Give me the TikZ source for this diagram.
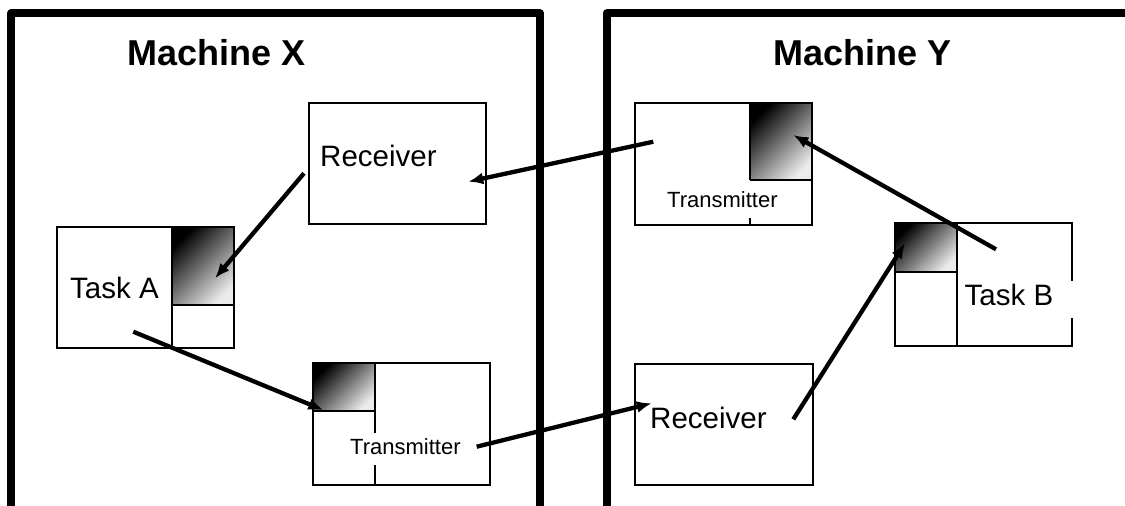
\documentclass[tikz,border=0pt]{standalone}
\usepackage{fontspec}
\setmainfont{Liberation Sans}
\usetikzlibrary{arrows.meta}
\tikzset{
  machine/.style={draw=black, line width=8pt, line join=round},
  box/.style={draw=black, line width=2pt},
  part/.style={draw=black, line width=2pt},
  buffer/.style={shading=axis, top color=black, bottom color=black!8, shading angle=45},
  msg/.style={draw=black, line width=4.3pt, -{Latex[length=15pt,width=12pt]}},
  title/.style={inner sep=0pt, anchor=base west, font=\fontsize{36}{40}\selectfont\bfseries},
  label/.style={inner sep=0pt, anchor=base west, font=\fontsize{29.5}{34}\selectfont},
  smalllabel/.style={inner sep=0pt, anchor=base west, font=\fontsize{22}{26}\selectfont}
}
\begin{document}
\begin{tikzpicture}[x=1pt, y=-1pt]
\useasboundingbox (0,0) rectangle (1125,506);
\fill[white] (0,0) rectangle (1125,506);
\clip (0,0) rectangle (1125,506);

% machines
\draw[machine] (11.2,540) -- (11.2,13.3) -- (540,13.3) -- (540,540);
\draw[machine] (606.7,540) -- (606.7,13.3) -- (1160,13.3);
\node[title] (mx) at (127,65) {Machine X};
\node[title] (my) at (773,65) {Machine Y};

% Machine X: receiver
\node[box, minimum width=176.7pt, minimum height=121.6pt, inner sep=0pt] (recvX) at (397.65,163.5) {};
\node[label] (recvXt) at (320,166.7) {Receiver};

% Machine X: task A
\shade[buffer] (172.3,226.7) rectangle (234.3,305);
\draw[box] (57.3,226.7) rectangle (234.3,347.7);
\draw[part] (172.3,226.7) -- (172.3,347.7);
\draw[part] (172.3,305) -- (234.3,305);
\node[box, draw=none, minimum width=177pt, minimum height=121pt, inner sep=0pt] (taskA) at (145.8,287.2) {};
\node[label] (taskAt) at (70,298) {Task A};

% Machine X: transmitter
\shade[buffer] (313.3,363.3) rectangle (375,411);
\draw[box] (313.3,363.3) rectangle (490,485);
\draw[part] (313.3,411) -- (375,411);
\draw[part] (375,363.3) -- (375,433);
\draw[part] (375,465) -- (375,485);
\node[box, draw=none, minimum width=176.7pt, minimum height=121.7pt, inner sep=0pt] (transX) at (401.65,424.15) {};
\node[smalllabel] (transXt) at (350,454) {Transmitter};

% Machine Y: transmitter
\shade[buffer] (750,103.3) rectangle (811.7,180);
\draw[box] (635,103.3) rectangle (811.7,225);
\draw[part] (750,103.3) -- (750,180);
\draw[part] (750,180) -- (811.7,180);
\draw[part] (750,218) -- (750,225);
\node[box, draw=none, minimum width=176.7pt, minimum height=121.7pt, inner sep=0pt] (transY) at (723.35,164.15) {};
\node[smalllabel] (transYt) at (667,207) {Transmitter};

% Machine Y: task B (right side left open in the middle)
\shade[buffer] (895,223.3) rectangle (956.7,271.7);
\draw[box] (1071.7,280.7) -- (1071.7,223.3) -- (895,223.3) -- (895,346) -- (1071.7,346) -- (1071.7,318.3);
\draw[part] (956.7,223.3) -- (956.7,346);
\draw[part] (895,271.7) -- (956.7,271.7);
\node[box, draw=none, minimum width=176.7pt, minimum height=122.7pt, inner sep=0pt] (taskB) at (983.35,284.65) {};
\node[label] (taskBt) at (964.5,305) {Task B};

% Machine Y: receiver
\node[box, minimum width=177.7pt, minimum height=121pt, inner sep=0pt] (recvY) at (723.85,424.5) {};
\node[label] (recvYt) at (650,428.3) {Receiver};

% message path end points
\coordinate (tyOut) at (653.3,141.7);
\coordinate (rxIn)  at (468.3,181.7);
\coordinate (rxOut) at (304,173.3);
\coordinate (taIn)  at (215,278.3);
\coordinate (taOut) at (133.3,331.7);
\coordinate (txIn)  at (323.3,410);
\coordinate (txOut) at (476.7,446.7);
\coordinate (ryIn)  at (651.7,403.3);
\coordinate (ryOut) at (793.3,419.3);
\coordinate (tbIn)  at (905,243.3);
\coordinate (tbOut) at (996,249.3);
\coordinate (tyIn)  at (793.3,135);

% messages
\draw[msg] (tyOut) -- (rxIn);
\draw[msg] (rxOut) -- (taIn);
\draw[msg] (taOut) -- (txIn);
\draw[msg] (txOut) -- (ryIn);
\draw[msg] (ryOut) -- (tbIn);
\draw[msg] (tbOut) -- (tyIn);
\end{tikzpicture}
\end{document}
